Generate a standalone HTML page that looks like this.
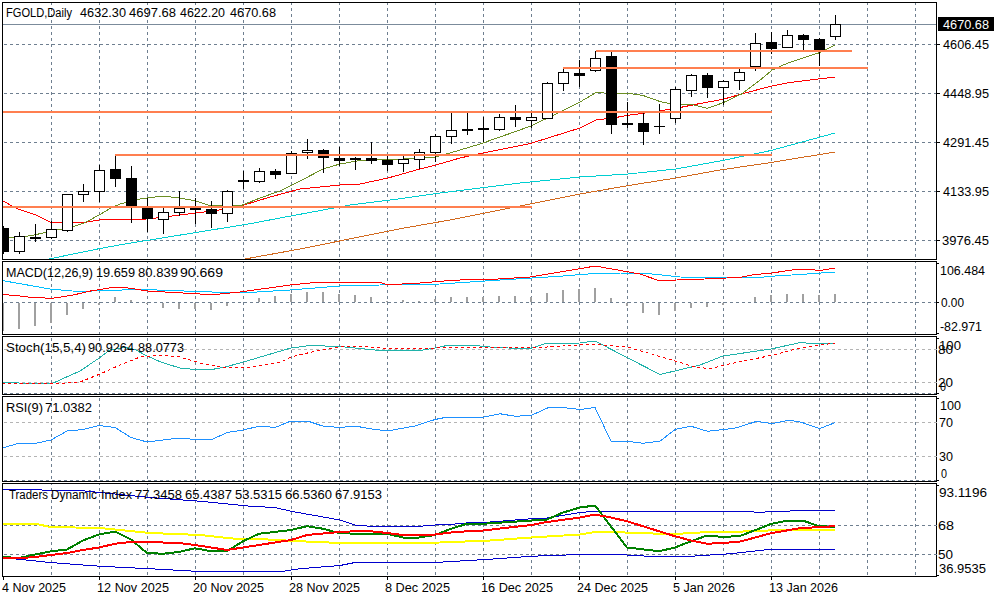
<!DOCTYPE html>
<html><head><meta charset="utf-8"><style>
html,body{margin:0;padding:0;background:#fff;width:1000px;height:600px;overflow:hidden}
svg{display:block}
text{font-family:"Liberation Sans", sans-serif;}
</style></head><body>
<svg width="1000" height="600" viewBox="0 0 1000 600" shape-rendering="crispEdges">
<defs>
<clipPath id="cmain"><rect x="3" y="3" width="933" height="256"/></clipPath>
<clipPath id="cmacd"><rect x="3" y="262" width="933" height="72"/></clipPath>
<clipPath id="cstoch"><rect x="3" y="337" width="933" height="57"/></clipPath>
<clipPath id="crsi"><rect x="3" y="397" width="933" height="84"/></clipPath>
<clipPath id="ctdi"><rect x="3" y="484" width="933" height="92"/></clipPath>
</defs>
<rect x="0" y="0" width="1000" height="600" fill="#fff"/>
<line x1="51.5" y1="3" x2="51.5" y2="259" stroke="#6f7f90" stroke-width="1" stroke-dasharray="3 3" stroke-dashoffset="1"/>
<line x1="99.5" y1="3" x2="99.5" y2="259" stroke="#6f7f90" stroke-width="1" stroke-dasharray="3 3" stroke-dashoffset="1"/>
<line x1="147.5" y1="3" x2="147.5" y2="259" stroke="#6f7f90" stroke-width="1" stroke-dasharray="3 3" stroke-dashoffset="1"/>
<line x1="195.5" y1="3" x2="195.5" y2="259" stroke="#6f7f90" stroke-width="1" stroke-dasharray="3 3" stroke-dashoffset="1"/>
<line x1="243.5" y1="3" x2="243.5" y2="259" stroke="#6f7f90" stroke-width="1" stroke-dasharray="3 3" stroke-dashoffset="1"/>
<line x1="291.5" y1="3" x2="291.5" y2="259" stroke="#6f7f90" stroke-width="1" stroke-dasharray="3 3" stroke-dashoffset="1"/>
<line x1="339.5" y1="3" x2="339.5" y2="259" stroke="#6f7f90" stroke-width="1" stroke-dasharray="3 3" stroke-dashoffset="1"/>
<line x1="387.5" y1="3" x2="387.5" y2="259" stroke="#6f7f90" stroke-width="1" stroke-dasharray="3 3" stroke-dashoffset="1"/>
<line x1="435.5" y1="3" x2="435.5" y2="259" stroke="#6f7f90" stroke-width="1" stroke-dasharray="3 3" stroke-dashoffset="1"/>
<line x1="483.5" y1="3" x2="483.5" y2="259" stroke="#6f7f90" stroke-width="1" stroke-dasharray="3 3" stroke-dashoffset="1"/>
<line x1="531.5" y1="3" x2="531.5" y2="259" stroke="#6f7f90" stroke-width="1" stroke-dasharray="3 3" stroke-dashoffset="1"/>
<line x1="579.5" y1="3" x2="579.5" y2="259" stroke="#6f7f90" stroke-width="1" stroke-dasharray="3 3" stroke-dashoffset="1"/>
<line x1="627.5" y1="3" x2="627.5" y2="259" stroke="#6f7f90" stroke-width="1" stroke-dasharray="3 3" stroke-dashoffset="1"/>
<line x1="675.5" y1="3" x2="675.5" y2="259" stroke="#6f7f90" stroke-width="1" stroke-dasharray="3 3" stroke-dashoffset="1"/>
<line x1="723.5" y1="3" x2="723.5" y2="259" stroke="#6f7f90" stroke-width="1" stroke-dasharray="3 3" stroke-dashoffset="1"/>
<line x1="771.5" y1="3" x2="771.5" y2="259" stroke="#6f7f90" stroke-width="1" stroke-dasharray="3 3" stroke-dashoffset="1"/>
<line x1="819.5" y1="3" x2="819.5" y2="259" stroke="#6f7f90" stroke-width="1" stroke-dasharray="3 3" stroke-dashoffset="1"/>
<line x1="867.5" y1="3" x2="867.5" y2="259" stroke="#6f7f90" stroke-width="1" stroke-dasharray="3 3" stroke-dashoffset="1"/>
<line x1="915.5" y1="3" x2="915.5" y2="259" stroke="#6f7f90" stroke-width="1" stroke-dasharray="3 3" stroke-dashoffset="1"/>
<line x1="51.5" y1="262" x2="51.5" y2="334" stroke="#6f7f90" stroke-width="1" stroke-dasharray="3 3" stroke-dashoffset="2"/>
<line x1="99.5" y1="262" x2="99.5" y2="334" stroke="#6f7f90" stroke-width="1" stroke-dasharray="3 3" stroke-dashoffset="2"/>
<line x1="147.5" y1="262" x2="147.5" y2="334" stroke="#6f7f90" stroke-width="1" stroke-dasharray="3 3" stroke-dashoffset="2"/>
<line x1="195.5" y1="262" x2="195.5" y2="334" stroke="#6f7f90" stroke-width="1" stroke-dasharray="3 3" stroke-dashoffset="2"/>
<line x1="243.5" y1="262" x2="243.5" y2="334" stroke="#6f7f90" stroke-width="1" stroke-dasharray="3 3" stroke-dashoffset="2"/>
<line x1="291.5" y1="262" x2="291.5" y2="334" stroke="#6f7f90" stroke-width="1" stroke-dasharray="3 3" stroke-dashoffset="2"/>
<line x1="339.5" y1="262" x2="339.5" y2="334" stroke="#6f7f90" stroke-width="1" stroke-dasharray="3 3" stroke-dashoffset="2"/>
<line x1="387.5" y1="262" x2="387.5" y2="334" stroke="#6f7f90" stroke-width="1" stroke-dasharray="3 3" stroke-dashoffset="2"/>
<line x1="435.5" y1="262" x2="435.5" y2="334" stroke="#6f7f90" stroke-width="1" stroke-dasharray="3 3" stroke-dashoffset="2"/>
<line x1="483.5" y1="262" x2="483.5" y2="334" stroke="#6f7f90" stroke-width="1" stroke-dasharray="3 3" stroke-dashoffset="2"/>
<line x1="531.5" y1="262" x2="531.5" y2="334" stroke="#6f7f90" stroke-width="1" stroke-dasharray="3 3" stroke-dashoffset="2"/>
<line x1="579.5" y1="262" x2="579.5" y2="334" stroke="#6f7f90" stroke-width="1" stroke-dasharray="3 3" stroke-dashoffset="2"/>
<line x1="627.5" y1="262" x2="627.5" y2="334" stroke="#6f7f90" stroke-width="1" stroke-dasharray="3 3" stroke-dashoffset="2"/>
<line x1="675.5" y1="262" x2="675.5" y2="334" stroke="#6f7f90" stroke-width="1" stroke-dasharray="3 3" stroke-dashoffset="2"/>
<line x1="723.5" y1="262" x2="723.5" y2="334" stroke="#6f7f90" stroke-width="1" stroke-dasharray="3 3" stroke-dashoffset="2"/>
<line x1="771.5" y1="262" x2="771.5" y2="334" stroke="#6f7f90" stroke-width="1" stroke-dasharray="3 3" stroke-dashoffset="2"/>
<line x1="819.5" y1="262" x2="819.5" y2="334" stroke="#6f7f90" stroke-width="1" stroke-dasharray="3 3" stroke-dashoffset="2"/>
<line x1="867.5" y1="262" x2="867.5" y2="334" stroke="#6f7f90" stroke-width="1" stroke-dasharray="3 3" stroke-dashoffset="2"/>
<line x1="915.5" y1="262" x2="915.5" y2="334" stroke="#6f7f90" stroke-width="1" stroke-dasharray="3 3" stroke-dashoffset="2"/>
<line x1="51.5" y1="337" x2="51.5" y2="394" stroke="#6f7f90" stroke-width="1" stroke-dasharray="3 3" stroke-dashoffset="5"/>
<line x1="99.5" y1="337" x2="99.5" y2="394" stroke="#6f7f90" stroke-width="1" stroke-dasharray="3 3" stroke-dashoffset="5"/>
<line x1="147.5" y1="337" x2="147.5" y2="394" stroke="#6f7f90" stroke-width="1" stroke-dasharray="3 3" stroke-dashoffset="5"/>
<line x1="195.5" y1="337" x2="195.5" y2="394" stroke="#6f7f90" stroke-width="1" stroke-dasharray="3 3" stroke-dashoffset="5"/>
<line x1="243.5" y1="337" x2="243.5" y2="394" stroke="#6f7f90" stroke-width="1" stroke-dasharray="3 3" stroke-dashoffset="5"/>
<line x1="291.5" y1="337" x2="291.5" y2="394" stroke="#6f7f90" stroke-width="1" stroke-dasharray="3 3" stroke-dashoffset="5"/>
<line x1="339.5" y1="337" x2="339.5" y2="394" stroke="#6f7f90" stroke-width="1" stroke-dasharray="3 3" stroke-dashoffset="5"/>
<line x1="387.5" y1="337" x2="387.5" y2="394" stroke="#6f7f90" stroke-width="1" stroke-dasharray="3 3" stroke-dashoffset="5"/>
<line x1="435.5" y1="337" x2="435.5" y2="394" stroke="#6f7f90" stroke-width="1" stroke-dasharray="3 3" stroke-dashoffset="5"/>
<line x1="483.5" y1="337" x2="483.5" y2="394" stroke="#6f7f90" stroke-width="1" stroke-dasharray="3 3" stroke-dashoffset="5"/>
<line x1="531.5" y1="337" x2="531.5" y2="394" stroke="#6f7f90" stroke-width="1" stroke-dasharray="3 3" stroke-dashoffset="5"/>
<line x1="579.5" y1="337" x2="579.5" y2="394" stroke="#6f7f90" stroke-width="1" stroke-dasharray="3 3" stroke-dashoffset="5"/>
<line x1="627.5" y1="337" x2="627.5" y2="394" stroke="#6f7f90" stroke-width="1" stroke-dasharray="3 3" stroke-dashoffset="5"/>
<line x1="675.5" y1="337" x2="675.5" y2="394" stroke="#6f7f90" stroke-width="1" stroke-dasharray="3 3" stroke-dashoffset="5"/>
<line x1="723.5" y1="337" x2="723.5" y2="394" stroke="#6f7f90" stroke-width="1" stroke-dasharray="3 3" stroke-dashoffset="5"/>
<line x1="771.5" y1="337" x2="771.5" y2="394" stroke="#6f7f90" stroke-width="1" stroke-dasharray="3 3" stroke-dashoffset="5"/>
<line x1="819.5" y1="337" x2="819.5" y2="394" stroke="#6f7f90" stroke-width="1" stroke-dasharray="3 3" stroke-dashoffset="5"/>
<line x1="867.5" y1="337" x2="867.5" y2="394" stroke="#6f7f90" stroke-width="1" stroke-dasharray="3 3" stroke-dashoffset="5"/>
<line x1="915.5" y1="337" x2="915.5" y2="394" stroke="#6f7f90" stroke-width="1" stroke-dasharray="3 3" stroke-dashoffset="5"/>
<line x1="51.5" y1="397" x2="51.5" y2="481" stroke="#6f7f90" stroke-width="1" stroke-dasharray="3 3" stroke-dashoffset="5"/>
<line x1="99.5" y1="397" x2="99.5" y2="481" stroke="#6f7f90" stroke-width="1" stroke-dasharray="3 3" stroke-dashoffset="5"/>
<line x1="147.5" y1="397" x2="147.5" y2="481" stroke="#6f7f90" stroke-width="1" stroke-dasharray="3 3" stroke-dashoffset="5"/>
<line x1="195.5" y1="397" x2="195.5" y2="481" stroke="#6f7f90" stroke-width="1" stroke-dasharray="3 3" stroke-dashoffset="5"/>
<line x1="243.5" y1="397" x2="243.5" y2="481" stroke="#6f7f90" stroke-width="1" stroke-dasharray="3 3" stroke-dashoffset="5"/>
<line x1="291.5" y1="397" x2="291.5" y2="481" stroke="#6f7f90" stroke-width="1" stroke-dasharray="3 3" stroke-dashoffset="5"/>
<line x1="339.5" y1="397" x2="339.5" y2="481" stroke="#6f7f90" stroke-width="1" stroke-dasharray="3 3" stroke-dashoffset="5"/>
<line x1="387.5" y1="397" x2="387.5" y2="481" stroke="#6f7f90" stroke-width="1" stroke-dasharray="3 3" stroke-dashoffset="5"/>
<line x1="435.5" y1="397" x2="435.5" y2="481" stroke="#6f7f90" stroke-width="1" stroke-dasharray="3 3" stroke-dashoffset="5"/>
<line x1="483.5" y1="397" x2="483.5" y2="481" stroke="#6f7f90" stroke-width="1" stroke-dasharray="3 3" stroke-dashoffset="5"/>
<line x1="531.5" y1="397" x2="531.5" y2="481" stroke="#6f7f90" stroke-width="1" stroke-dasharray="3 3" stroke-dashoffset="5"/>
<line x1="579.5" y1="397" x2="579.5" y2="481" stroke="#6f7f90" stroke-width="1" stroke-dasharray="3 3" stroke-dashoffset="5"/>
<line x1="627.5" y1="397" x2="627.5" y2="481" stroke="#6f7f90" stroke-width="1" stroke-dasharray="3 3" stroke-dashoffset="5"/>
<line x1="675.5" y1="397" x2="675.5" y2="481" stroke="#6f7f90" stroke-width="1" stroke-dasharray="3 3" stroke-dashoffset="5"/>
<line x1="723.5" y1="397" x2="723.5" y2="481" stroke="#6f7f90" stroke-width="1" stroke-dasharray="3 3" stroke-dashoffset="5"/>
<line x1="771.5" y1="397" x2="771.5" y2="481" stroke="#6f7f90" stroke-width="1" stroke-dasharray="3 3" stroke-dashoffset="5"/>
<line x1="819.5" y1="397" x2="819.5" y2="481" stroke="#6f7f90" stroke-width="1" stroke-dasharray="3 3" stroke-dashoffset="5"/>
<line x1="867.5" y1="397" x2="867.5" y2="481" stroke="#6f7f90" stroke-width="1" stroke-dasharray="3 3" stroke-dashoffset="5"/>
<line x1="915.5" y1="397" x2="915.5" y2="481" stroke="#6f7f90" stroke-width="1" stroke-dasharray="3 3" stroke-dashoffset="5"/>
<line x1="51.5" y1="484" x2="51.5" y2="576" stroke="#6f7f90" stroke-width="1" stroke-dasharray="3 3" stroke-dashoffset="2"/>
<line x1="99.5" y1="484" x2="99.5" y2="576" stroke="#6f7f90" stroke-width="1" stroke-dasharray="3 3" stroke-dashoffset="2"/>
<line x1="147.5" y1="484" x2="147.5" y2="576" stroke="#6f7f90" stroke-width="1" stroke-dasharray="3 3" stroke-dashoffset="2"/>
<line x1="195.5" y1="484" x2="195.5" y2="576" stroke="#6f7f90" stroke-width="1" stroke-dasharray="3 3" stroke-dashoffset="2"/>
<line x1="243.5" y1="484" x2="243.5" y2="576" stroke="#6f7f90" stroke-width="1" stroke-dasharray="3 3" stroke-dashoffset="2"/>
<line x1="291.5" y1="484" x2="291.5" y2="576" stroke="#6f7f90" stroke-width="1" stroke-dasharray="3 3" stroke-dashoffset="2"/>
<line x1="339.5" y1="484" x2="339.5" y2="576" stroke="#6f7f90" stroke-width="1" stroke-dasharray="3 3" stroke-dashoffset="2"/>
<line x1="387.5" y1="484" x2="387.5" y2="576" stroke="#6f7f90" stroke-width="1" stroke-dasharray="3 3" stroke-dashoffset="2"/>
<line x1="435.5" y1="484" x2="435.5" y2="576" stroke="#6f7f90" stroke-width="1" stroke-dasharray="3 3" stroke-dashoffset="2"/>
<line x1="483.5" y1="484" x2="483.5" y2="576" stroke="#6f7f90" stroke-width="1" stroke-dasharray="3 3" stroke-dashoffset="2"/>
<line x1="531.5" y1="484" x2="531.5" y2="576" stroke="#6f7f90" stroke-width="1" stroke-dasharray="3 3" stroke-dashoffset="2"/>
<line x1="579.5" y1="484" x2="579.5" y2="576" stroke="#6f7f90" stroke-width="1" stroke-dasharray="3 3" stroke-dashoffset="2"/>
<line x1="627.5" y1="484" x2="627.5" y2="576" stroke="#6f7f90" stroke-width="1" stroke-dasharray="3 3" stroke-dashoffset="2"/>
<line x1="675.5" y1="484" x2="675.5" y2="576" stroke="#6f7f90" stroke-width="1" stroke-dasharray="3 3" stroke-dashoffset="2"/>
<line x1="723.5" y1="484" x2="723.5" y2="576" stroke="#6f7f90" stroke-width="1" stroke-dasharray="3 3" stroke-dashoffset="2"/>
<line x1="771.5" y1="484" x2="771.5" y2="576" stroke="#6f7f90" stroke-width="1" stroke-dasharray="3 3" stroke-dashoffset="2"/>
<line x1="819.5" y1="484" x2="819.5" y2="576" stroke="#6f7f90" stroke-width="1" stroke-dasharray="3 3" stroke-dashoffset="2"/>
<line x1="867.5" y1="484" x2="867.5" y2="576" stroke="#6f7f90" stroke-width="1" stroke-dasharray="3 3" stroke-dashoffset="2"/>
<line x1="915.5" y1="484" x2="915.5" y2="576" stroke="#6f7f90" stroke-width="1" stroke-dasharray="3 3" stroke-dashoffset="2"/>
<line x1="3" y1="44.5" x2="936" y2="44.5" stroke="#6f7f90" stroke-width="1" stroke-dasharray="3 3" stroke-dashoffset="5"/>
<line x1="3" y1="93.5" x2="936" y2="93.5" stroke="#6f7f90" stroke-width="1" stroke-dasharray="3 3" stroke-dashoffset="5"/>
<line x1="3" y1="142.5" x2="936" y2="142.5" stroke="#6f7f90" stroke-width="1" stroke-dasharray="3 3" stroke-dashoffset="5"/>
<line x1="3" y1="191.5" x2="936" y2="191.5" stroke="#6f7f90" stroke-width="1" stroke-dasharray="3 3" stroke-dashoffset="5"/>
<line x1="3" y1="240.5" x2="936" y2="240.5" stroke="#6f7f90" stroke-width="1" stroke-dasharray="3 3" stroke-dashoffset="5"/>
<rect x="2" y="24" width="934" height="1" fill="#7b8b9b"/>
<line x1="3" y1="302.5" x2="936" y2="302.5" stroke="#6f7f90" stroke-width="1" stroke-dasharray="3 3" stroke-dashoffset="5"/>
<line x1="3" y1="349.5" x2="936" y2="349.5" stroke="#b4b4b4" stroke-width="1" stroke-dasharray="3 3" stroke-dashoffset="5"/>
<line x1="3" y1="382.5" x2="936" y2="382.5" stroke="#b4b4b4" stroke-width="1" stroke-dasharray="3 3" stroke-dashoffset="5"/>
<line x1="3" y1="393.5" x2="936" y2="393.5" stroke="#6f7f90" stroke-width="1" stroke-dasharray="3 3" stroke-dashoffset="5"/>
<line x1="3" y1="422.5" x2="936" y2="422.5" stroke="#b4b4b4" stroke-width="1" stroke-dasharray="3 3" stroke-dashoffset="5"/>
<line x1="3" y1="456.5" x2="936" y2="456.5" stroke="#b4b4b4" stroke-width="1" stroke-dasharray="3 3" stroke-dashoffset="5"/>
<line x1="3" y1="480.5" x2="936" y2="480.5" stroke="#6f7f90" stroke-width="1" stroke-dasharray="3 3" stroke-dashoffset="5"/>
<line x1="3" y1="525.5" x2="936" y2="525.5" stroke="#6f7f90" stroke-width="1" stroke-dasharray="3 3" stroke-dashoffset="5"/>
<line x1="3" y1="554.5" x2="936" y2="554.5" stroke="#6f7f90" stroke-width="1" stroke-dasharray="3 3" stroke-dashoffset="5"/>
<g clip-path="url(#cmain)">
<polyline points="245,259 300,249 400,228.75 450,220 480,214 520,206 580,194 628,185.6 676,178 720,170 771,162.5 835,152" fill="none" stroke="#d2691e" stroke-width="1" stroke-linejoin="round"/>
<polyline points="49,259 99,248.7 125,244 250,223.75 280,218 350,205 400,198.75 440,193 480,188 520,183 580,177 628,174 676,169 720,161 771,150.5 835,133" fill="none" stroke="#00ced1" stroke-width="1" stroke-linejoin="round"/>
<polyline points="3,201 17,208.7 36,215 51,222.4 85,222.4 99,220 107,219.3 148,219 180,215 212,211 232,208 244,205 270,197 300,189 340,185 360,184 388,178 420,169 436,165 460,158 483,153 530,143.6 580,128 596,120 614,117.8 630,115 647,112.8 662,110.5 680,107.5 700,103.5 723,99.3 745,93 771,86.25 790,82.5 820,78.75 835,77.25" fill="none" stroke="#ff0000" stroke-width="1" stroke-linejoin="round"/>
<polyline points="3,236 13,237.6 31,235.7 53,230.7 69,228 85,222.7 99,215 111,208 120,204 140,199 162,196 180,198 196,201 210,205.6 240,206 260,198 280,191 300,181 323,169 340,164 360,160.5 400,159.3 435,157 450,153 480,144 500,137 531,126 560,112 580,102 596,92.5 604,93 630,93.5 643,95.5 660,101.5 674,104.5 692,104.4 700,106.5 707.5,108.3 723,102.75 742,93.75 760,80.25 772,70.2 781,66 790,62.25 820,52.5 835,45" fill="none" stroke="#6b8e23" stroke-width="1" stroke-linejoin="round"/>
</g>
<g clip-path="url(#cmain)">
<rect x="3" y="226" width="1" height="28" fill="#000"/>
<rect x="-2" y="228" width="11" height="24" fill="#000"/>
<rect x="19" y="232" width="1" height="22" fill="#000"/>
<rect x="14.5" y="236.5" width="10" height="15" fill="#fff" stroke="#000" stroke-width="1"/>
<rect x="35" y="224" width="1" height="18" fill="#000"/>
<rect x="30" y="237" width="11" height="2" fill="#000"/>
<rect x="51" y="221" width="1" height="18" fill="#000"/>
<rect x="46.5" y="229.5" width="10" height="8" fill="#fff" stroke="#000" stroke-width="1"/>
<rect x="67" y="194" width="1" height="38" fill="#000"/>
<rect x="62.5" y="194.5" width="10" height="36" fill="#fff" stroke="#000" stroke-width="1"/>
<rect x="83" y="184" width="1" height="18" fill="#000"/>
<rect x="78.5" y="191.5" width="10" height="3" fill="#fff" stroke="#000" stroke-width="1"/>
<rect x="99" y="165" width="1" height="37" fill="#000"/>
<rect x="94.5" y="170.5" width="10" height="21" fill="#fff" stroke="#000" stroke-width="1"/>
<rect x="115" y="155" width="1" height="32" fill="#000"/>
<rect x="110" y="169" width="11" height="10" fill="#000"/>
<rect x="131" y="166" width="1" height="57" fill="#000"/>
<rect x="126" y="178" width="11" height="28" fill="#000"/>
<rect x="147" y="198" width="1" height="34" fill="#000"/>
<rect x="142" y="208" width="11" height="11" fill="#000"/>
<rect x="163" y="208" width="1" height="26" fill="#000"/>
<rect x="158.5" y="212.5" width="10" height="7" fill="#fff" stroke="#000" stroke-width="1"/>
<rect x="179" y="191" width="1" height="25" fill="#000"/>
<rect x="174.5" y="208.5" width="10" height="4" fill="#fff" stroke="#000" stroke-width="1"/>
<rect x="195" y="198" width="1" height="26" fill="#000"/>
<rect x="190" y="208" width="11" height="2" fill="#000"/>
<rect x="211" y="201" width="1" height="27" fill="#000"/>
<rect x="206" y="209" width="11" height="5" fill="#000"/>
<rect x="227" y="190" width="1" height="32" fill="#000"/>
<rect x="222.5" y="191.5" width="10" height="22" fill="#fff" stroke="#000" stroke-width="1"/>
<rect x="243" y="171" width="1" height="18" fill="#000"/>
<rect x="238" y="180" width="11" height="2" fill="#000"/>
<rect x="259" y="168" width="1" height="15" fill="#000"/>
<rect x="254.5" y="171.5" width="10" height="10" fill="#fff" stroke="#000" stroke-width="1"/>
<rect x="275" y="169" width="1" height="10" fill="#000"/>
<rect x="270" y="171" width="11" height="4" fill="#000"/>
<rect x="291" y="151" width="1" height="23" fill="#000"/>
<rect x="286.5" y="153.5" width="10" height="20" fill="#fff" stroke="#000" stroke-width="1"/>
<rect x="307" y="139" width="1" height="20" fill="#000"/>
<rect x="302.5" y="150.5" width="10" height="2" fill="#fff" stroke="#000" stroke-width="1"/>
<rect x="323" y="149" width="1" height="24" fill="#000"/>
<rect x="318" y="150" width="11" height="8" fill="#000"/>
<rect x="339" y="147" width="1" height="19" fill="#000"/>
<rect x="334" y="158" width="11" height="3" fill="#000"/>
<rect x="355" y="157" width="1" height="13" fill="#000"/>
<rect x="350.5" y="158.5" width="10" height="1" fill="#fff" stroke="#000" stroke-width="1"/>
<rect x="371" y="142" width="1" height="22" fill="#000"/>
<rect x="366" y="158" width="11" height="3" fill="#000"/>
<rect x="387" y="156" width="1" height="15" fill="#000"/>
<rect x="382" y="160" width="11" height="5" fill="#000"/>
<rect x="403" y="156" width="1" height="16" fill="#000"/>
<rect x="398.5" y="159.5" width="10" height="4" fill="#fff" stroke="#000" stroke-width="1"/>
<rect x="419" y="149" width="1" height="20" fill="#000"/>
<rect x="414.5" y="152.5" width="10" height="7" fill="#fff" stroke="#000" stroke-width="1"/>
<rect x="435" y="134" width="1" height="28" fill="#000"/>
<rect x="430.5" y="136.5" width="10" height="16" fill="#fff" stroke="#000" stroke-width="1"/>
<rect x="451" y="113" width="1" height="31" fill="#000"/>
<rect x="446.5" y="130.5" width="10" height="6" fill="#fff" stroke="#000" stroke-width="1"/>
<rect x="467" y="113" width="1" height="22" fill="#000"/>
<rect x="462" y="129" width="11" height="2" fill="#000"/>
<rect x="483" y="117" width="1" height="25" fill="#000"/>
<rect x="478" y="128" width="11" height="2" fill="#000"/>
<rect x="499" y="114" width="1" height="17" fill="#000"/>
<rect x="494.5" y="117.5" width="10" height="12" fill="#fff" stroke="#000" stroke-width="1"/>
<rect x="515" y="105" width="1" height="22" fill="#000"/>
<rect x="510" y="117" width="11" height="3" fill="#000"/>
<rect x="531" y="113" width="1" height="15" fill="#000"/>
<rect x="526.5" y="117.5" width="10" height="3" fill="#fff" stroke="#000" stroke-width="1"/>
<rect x="547" y="82" width="1" height="37" fill="#000"/>
<rect x="542.5" y="83.5" width="10" height="35" fill="#fff" stroke="#000" stroke-width="1"/>
<rect x="563" y="68" width="1" height="23" fill="#000"/>
<rect x="558.5" y="72.5" width="10" height="11" fill="#fff" stroke="#000" stroke-width="1"/>
<rect x="579" y="60" width="1" height="27" fill="#000"/>
<rect x="574" y="73" width="11" height="3" fill="#000"/>
<rect x="595" y="51" width="1" height="21" fill="#000"/>
<rect x="590.5" y="58.5" width="10" height="12" fill="#fff" stroke="#000" stroke-width="1"/>
<rect x="611" y="52" width="1" height="82" fill="#000"/>
<rect x="606" y="56" width="11" height="69" fill="#000"/>
<rect x="627" y="102" width="1" height="26" fill="#000"/>
<rect x="622" y="123" width="11" height="2" fill="#000"/>
<rect x="643" y="113" width="1" height="32" fill="#000"/>
<rect x="638" y="123" width="11" height="9" fill="#000"/>
<rect x="659" y="104" width="1" height="30" fill="#000"/>
<rect x="654" y="126" width="11" height="1" fill="#000"/>
<rect x="675" y="87" width="1" height="36" fill="#000"/>
<rect x="670.5" y="89.5" width="10" height="29" fill="#fff" stroke="#000" stroke-width="1"/>
<rect x="691" y="74" width="1" height="23" fill="#000"/>
<rect x="686.5" y="75.5" width="10" height="15" fill="#fff" stroke="#000" stroke-width="1"/>
<rect x="707" y="73" width="1" height="25" fill="#000"/>
<rect x="702" y="75" width="11" height="13" fill="#000"/>
<rect x="723" y="80" width="1" height="25" fill="#000"/>
<rect x="718.5" y="81.5" width="10" height="6" fill="#fff" stroke="#000" stroke-width="1"/>
<rect x="739" y="69" width="1" height="21" fill="#000"/>
<rect x="734.5" y="72.5" width="10" height="8" fill="#fff" stroke="#000" stroke-width="1"/>
<rect x="755" y="33" width="1" height="38" fill="#000"/>
<rect x="750.5" y="43.5" width="10" height="23" fill="#fff" stroke="#000" stroke-width="1"/>
<rect x="771" y="32" width="1" height="22" fill="#000"/>
<rect x="766" y="42" width="11" height="7" fill="#000"/>
<rect x="787" y="30" width="1" height="18" fill="#000"/>
<rect x="782.5" y="35.5" width="10" height="12" fill="#fff" stroke="#000" stroke-width="1"/>
<rect x="803" y="34" width="1" height="16" fill="#000"/>
<rect x="798" y="35" width="11" height="5" fill="#000"/>
<rect x="819" y="38" width="1" height="28" fill="#000"/>
<rect x="814" y="39" width="11" height="11" fill="#000"/>
<rect x="835" y="15" width="1" height="25" fill="#000"/>
<rect x="830.5" y="24.5" width="10" height="12" fill="#fff" stroke="#000" stroke-width="1"/>
</g>
<rect x="596" y="50" width="256" height="2" fill="#ff7f50"/>
<rect x="563" y="67" width="305" height="2" fill="#ff7f50"/>
<rect x="2" y="111" width="770" height="2" fill="#ff7f50"/>
<rect x="115" y="154" width="657" height="2" fill="#ff7f50"/>
<rect x="2" y="206" width="530" height="2" fill="#ff7f50"/>
<g clip-path="url(#cmacd)">
<rect x="2" y="303" width="2" height="28" fill="#a0a0a0"/>
<rect x="18" y="303" width="2" height="26" fill="#a0a0a0"/>
<rect x="34" y="303" width="2" height="23" fill="#a0a0a0"/>
<rect x="50" y="303" width="2" height="20" fill="#a0a0a0"/>
<rect x="66" y="303" width="2" height="12" fill="#a0a0a0"/>
<rect x="82" y="303" width="2" height="6" fill="#a0a0a0"/>
<rect x="98" y="303" width="2" height="2" fill="#a0a0a0"/>
<rect x="114" y="297" width="2" height="5" fill="#a0a0a0"/>
<rect x="130" y="300" width="2" height="2" fill="#a0a0a0"/>
<rect x="146" y="303" width="2" height="1" fill="#a0a0a0"/>
<rect x="162" y="303" width="2" height="5" fill="#a0a0a0"/>
<rect x="178" y="303" width="2" height="6" fill="#a0a0a0"/>
<rect x="194" y="303" width="2" height="6" fill="#a0a0a0"/>
<rect x="210" y="303" width="2" height="7" fill="#a0a0a0"/>
<rect x="226" y="303" width="2" height="3" fill="#a0a0a0"/>
<rect x="258" y="298" width="2" height="4" fill="#a0a0a0"/>
<rect x="274" y="296" width="2" height="6" fill="#a0a0a0"/>
<rect x="290" y="294" width="2" height="8" fill="#a0a0a0"/>
<rect x="306" y="292" width="2" height="10" fill="#a0a0a0"/>
<rect x="322" y="292" width="2" height="10" fill="#a0a0a0"/>
<rect x="338" y="294" width="2" height="8" fill="#a0a0a0"/>
<rect x="354" y="295" width="2" height="7" fill="#a0a0a0"/>
<rect x="370" y="297" width="2" height="5" fill="#a0a0a0"/>
<rect x="386" y="301" width="2" height="1" fill="#a0a0a0"/>
<rect x="402" y="300" width="2" height="2" fill="#a0a0a0"/>
<rect x="418" y="301" width="2" height="1" fill="#a0a0a0"/>
<rect x="434" y="299" width="2" height="3" fill="#a0a0a0"/>
<rect x="450" y="297" width="2" height="5" fill="#a0a0a0"/>
<rect x="466" y="297" width="2" height="5" fill="#a0a0a0"/>
<rect x="482" y="297" width="2" height="5" fill="#a0a0a0"/>
<rect x="498" y="296" width="2" height="6" fill="#a0a0a0"/>
<rect x="514" y="296" width="2" height="6" fill="#a0a0a0"/>
<rect x="530" y="297" width="2" height="5" fill="#a0a0a0"/>
<rect x="546" y="293" width="2" height="9" fill="#a0a0a0"/>
<rect x="562" y="290" width="2" height="12" fill="#a0a0a0"/>
<rect x="578" y="289" width="2" height="13" fill="#a0a0a0"/>
<rect x="594" y="288" width="2" height="14" fill="#a0a0a0"/>
<rect x="610" y="298" width="2" height="4" fill="#a0a0a0"/>
<rect x="626" y="303" width="2" height="3" fill="#a0a0a0"/>
<rect x="642" y="303" width="2" height="10" fill="#a0a0a0"/>
<rect x="658" y="303" width="2" height="12" fill="#a0a0a0"/>
<rect x="674" y="303" width="2" height="8" fill="#a0a0a0"/>
<rect x="690" y="303" width="2" height="5" fill="#a0a0a0"/>
<rect x="706" y="303" width="2" height="4" fill="#a0a0a0"/>
<rect x="722" y="303" width="2" height="2" fill="#a0a0a0"/>
<rect x="754" y="297" width="2" height="5" fill="#a0a0a0"/>
<rect x="770" y="295" width="2" height="7" fill="#a0a0a0"/>
<rect x="786" y="294" width="2" height="8" fill="#a0a0a0"/>
<rect x="802" y="294" width="2" height="8" fill="#a0a0a0"/>
<rect x="818" y="295" width="2" height="7" fill="#a0a0a0"/>
<rect x="834" y="294" width="2" height="8" fill="#a0a0a0"/>
<polyline points="2,280.5 50,289 78,291.5 88,291.5 99,290 122,290 130,289 200,291.6 240,293 290,290 340,286 380,285 440,284 500,280 560,276.25 600,273 620,273 650,273.75 680,277 720,278 760,277.5 771,276.25 800,274.5 835,272" fill="none" stroke="#00bfff" stroke-width="1" stroke-linejoin="round"/>
<polyline points="2,294.5 16,295.5 24,296.5 32,297.5 52,298.3 71.5,295.4 91,290.9 112,287.6 122,287.3 130,288.3 148,291 172,292.4 200,294 210,295 240,292 290,285 320,282 340,282 380,282.5 387,284.5 410,283.75 427,282.5 440,281.25 460,280 490,279.5 530,277 550,273.75 580,268.75 595,266 612,269 640,274 660,281 685,279.5 715,278.75 742,277 755,274.5 772,273 795,269.5 810,269.5 820,270.5 835,268" fill="none" stroke="#ff0000" stroke-width="1" stroke-linejoin="round"/>
</g>
<g clip-path="url(#cstoch)">
<polyline points="2,382.5 51,384 80,371 100,357.5 110,350 125,347.5 135,349.5 147,356 162,362.5 180,368 195,369.5 212,369.5 225,367 240,363 291,348 310,345.5 340,346.5 380,350.5 420,350.5 435,348 447,345.5 475,345.5 490,347 508,348 530,348.5 545,343.75 580,343 595,341 627,357.5 660,374.5 700,365 723,356 771,349 800,342.6 820,344 835,343.4" fill="none" stroke="#20b2aa" stroke-width="1" stroke-linejoin="round"/>
<polyline points="2,383 51,384 80,382 100,374 120,365 140,357 160,355 180,357 200,363 220,367 250,367 280,362.5 291,357 320,350 340,347 360,346 380,348 420,349 435,348 480,347.5 530,348 580,345 595,344.5 627,347 645,352 670,359.5 695,367 710,368.75 730,363.75 771,355.5 800,348 835,343" fill="none" stroke="#ff0000" stroke-width="1" stroke-dasharray="3 3" stroke-linejoin="round"/>
</g>
<g clip-path="url(#crsi)">
<polyline points="2,448 20,443 37,443 51,440 67,431 83,429.5 99,425.5 115,427.5 131,437.5 147,442 163,440 179,438 195,439.5 211,440 227,432.5 243,430 260,426 275,427.5 291,421 307.5,421 322.5,426 340,427.5 355,426 370,428.75 387.5,431 415,426 435,419.5 447.5,417 483.75,417 500,413.75 515,416.25 531,415.5 547.5,408 562.5,407.5 580,409.5 595,407.5 611,441.25 627.5,441.25 642.5,443.25 660,441.25 675,429.5 691,426.25 707.5,431.25 723.75,429.5 736.8,427.8 756.4,421.4 771.8,423.6 788.6,420.2 801.2,422.2 819.4,428.6 834.8,422.8" fill="none" stroke="#1e90ff" stroke-width="1" stroke-linejoin="round"/>
</g>
<g clip-path="url(#ctdi)">
<polyline points="2,489.5 80,490.5 150,497.5 200,501.25 250,506.25 275,507.5 291,511.25 340,520 355,525 370,526.25 420,526.25 435,525 460,523.75 470,522.5 490,522 531,518.75 547,518 580,512.5 595,511.25 730,511.25 760,512.2 800,510.6 835,510.6" fill="none" stroke="#0000cd" stroke-width="1" stroke-linejoin="round"/>
<polyline points="2,557.5 50,562.5 100,566.25 150,568.75 195,571.25 283,571.25 300,568.75 340,565.5 355,562.5 435,562.5 490,559.25 531,556.25 580,554.5 627,555 660,557 691,556.25 730,553.75 771,549.2 835,549.2" fill="none" stroke="#0000cd" stroke-width="1" stroke-linejoin="round"/>
<polyline points="2,523.75 37,524 50,527 100,528 150,533 200,535 235,538.75 259,539 300,541.25 340,543 420,543 440,542.5 490,540.5 531,537.5 580,534.5 595,532 611,532 660,533.75 675,534 700,532.5 730,532 771,530.4 800,529.6 835,529.6" fill="none" stroke="#ffff00" stroke-width="2" stroke-linejoin="round"/>
<polyline points="2,557 19,558 35,554.5 51,551.25 67,549.5 83,540.5 99,534.5 115,531.5 131,539.5 147,553 163,553.75 179,552 195,548.25 211,551.25 227,551.25 243,541.25 259,533.75 291,530 307,526.25 323,528.75 339,533 355,533.75 387,533.75 403,537.5 419,537.5 435,535 451,528.75 467,523.75 483,523.75 547,519.5 563,512.5 580,507.5 595,505.5 627,547.5 659,551.25 675,547.5 691,541.25 707,535.5 723,537 740,536 771,524 787,520.6 803,520.6 819,526.2 835,526.8" fill="none" stroke="#008000" stroke-width="2" stroke-linejoin="round"/>
<polyline points="2,557.5 19,558.25 35,557 51,555 67,553 83,550 99,547.5 115,543.75 131,542 147,542 163,542.5 179,543 195,545 211,547.5 227,550 243,547.5 259,545 291,540 307,535 339,532 355,531.25 371,531.25 387,533 403,535 419,535 435,534.5 451,532.5 467,531.25 483,530.5 531,525 547,522 580,517.5 595,514.5 611,517.5 627,521.25 643,526.25 659,531.25 675,536.25 691,540.5 707,543.75 723,543 740,541.6 771,533.2 800,528.2 835,526.2" fill="none" stroke="#ff0000" stroke-width="2" stroke-linejoin="round"/>
</g>
<rect x="2.5" y="2.5" width="934" height="257" fill="none" stroke="#000" stroke-width="1"/>
<rect x="2.5" y="261.5" width="934" height="73" fill="none" stroke="#000" stroke-width="1"/>
<rect x="2.5" y="336.5" width="934" height="58" fill="none" stroke="#000" stroke-width="1"/>
<rect x="2.5" y="396.5" width="934" height="85" fill="none" stroke="#000" stroke-width="1"/>
<rect x="2.5" y="483.5" width="934" height="93" fill="none" stroke="#000" stroke-width="1"/>
<rect x="937" y="44" width="3" height="1" fill="#000"/>
<rect x="937" y="93" width="3" height="1" fill="#000"/>
<rect x="937" y="142" width="3" height="1" fill="#000"/>
<rect x="937" y="191" width="3" height="1" fill="#000"/>
<rect x="937" y="240" width="3" height="1" fill="#000"/>
<rect x="937" y="263" width="2" height="1" fill="#000"/>
<rect x="937" y="302" width="2" height="1" fill="#000"/>
<rect x="937" y="333" width="2" height="1" fill="#000"/>
<rect x="937" y="338" width="2" height="1" fill="#000"/>
<rect x="937" y="393" width="2" height="1" fill="#000"/>
<rect x="937" y="398" width="2" height="1" fill="#000"/>
<rect x="937" y="480" width="2" height="1" fill="#000"/>
<rect x="937" y="485" width="2" height="1" fill="#000"/>
<rect x="937" y="575" width="2" height="1" fill="#000"/>
<rect x="936" y="349" width="1" height="1" fill="#b4b4b4"/>
<rect x="936" y="382" width="1" height="1" fill="#b4b4b4"/>
<rect x="936" y="422" width="1" height="1" fill="#b4b4b4"/>
<rect x="936" y="456" width="1" height="1" fill="#b4b4b4"/>
<rect x="936" y="525" width="1" height="1" fill="#6f7f90"/>
<rect x="936" y="554" width="1" height="1" fill="#6f7f90"/>
<rect x="938" y="17" width="56" height="14" fill="#000"/>
<text x="6" y="17" font-size="12" fill="#000" textLength="66" lengthAdjust="spacingAndGlyphs">FGOLD,Daily</text>
<text x="80" y="17" font-size="12" fill="#000" textLength="46" lengthAdjust="spacingAndGlyphs">4632.30</text>
<text x="129" y="17" font-size="12" fill="#000" textLength="47" lengthAdjust="spacingAndGlyphs">4697.68</text>
<text x="180" y="17" font-size="12" fill="#000" textLength="45" lengthAdjust="spacingAndGlyphs">4622.20</text>
<text x="230" y="17" font-size="12" fill="#000" textLength="46" lengthAdjust="spacingAndGlyphs">4670.68</text>
<text x="6" y="277" font-size="12" fill="#000" textLength="87" lengthAdjust="spacingAndGlyphs">MACD(12,26,9)</text>
<text x="96" y="277" font-size="12" fill="#000" textLength="39" lengthAdjust="spacingAndGlyphs">19.659</text>
<text x="138" y="277" font-size="12" fill="#000" textLength="40" lengthAdjust="spacingAndGlyphs">80.839</text>
<text x="180" y="277" font-size="12" fill="#000" textLength="43" lengthAdjust="spacingAndGlyphs">90.669</text>
<text x="6" y="352" font-size="12" fill="#000" textLength="80" lengthAdjust="spacingAndGlyphs">Stoch(15,5,4)</text>
<text x="88" y="352" font-size="12" fill="#000" textLength="46" lengthAdjust="spacingAndGlyphs">90.9264</text>
<text x="138" y="352" font-size="12" fill="#000" textLength="46" lengthAdjust="spacingAndGlyphs">88.0773</text>
<text x="6" y="412" font-size="12" fill="#000" textLength="37" lengthAdjust="spacingAndGlyphs">RSI(9)</text>
<text x="45" y="412" font-size="12" fill="#000" textLength="47" lengthAdjust="spacingAndGlyphs">71.0382</text>
<text x="9" y="499" font-size="12" fill="#000" textLength="39" lengthAdjust="spacingAndGlyphs">Traders</text>
<text x="51" y="499" font-size="12" fill="#000" textLength="46" lengthAdjust="spacingAndGlyphs">Dynamic</text>
<text x="101" y="499" font-size="12" fill="#000" textLength="31" lengthAdjust="spacingAndGlyphs">Index</text>
<text x="135" y="499" font-size="12" fill="#000" textLength="47" lengthAdjust="spacingAndGlyphs">77.3458</text>
<text x="185" y="499" font-size="12" fill="#000" textLength="47" lengthAdjust="spacingAndGlyphs">65.4387</text>
<text x="235" y="499" font-size="12" fill="#000" textLength="47" lengthAdjust="spacingAndGlyphs">53.5315</text>
<text x="285" y="499" font-size="12" fill="#000" textLength="47" lengthAdjust="spacingAndGlyphs">66.5360</text>
<text x="335" y="499" font-size="12" fill="#000" textLength="47" lengthAdjust="spacingAndGlyphs">67.9153</text>
<text x="943" y="49" font-size="12" fill="#000" textLength="46" lengthAdjust="spacingAndGlyphs">4606.45</text>
<text x="943" y="98" font-size="12" fill="#000" textLength="46" lengthAdjust="spacingAndGlyphs">4448.95</text>
<text x="943" y="147" font-size="12" fill="#000" textLength="46" lengthAdjust="spacingAndGlyphs">4291.45</text>
<text x="943" y="196" font-size="12" fill="#000" textLength="46" lengthAdjust="spacingAndGlyphs">4133.95</text>
<text x="942" y="245" font-size="12" fill="#000" textLength="47" lengthAdjust="spacingAndGlyphs">3976.45</text>
<text x="943" y="29" font-size="12" fill="#fff" textLength="46" lengthAdjust="spacingAndGlyphs">4670.68</text>
<text x="940" y="275" font-size="12" fill="#000" textLength="45" lengthAdjust="spacingAndGlyphs">106.484</text>
<text x="941" y="307" font-size="12" fill="#000" textLength="23" lengthAdjust="spacingAndGlyphs">0.00</text>
<text x="940" y="331" font-size="12" fill="#000" textLength="42" lengthAdjust="spacingAndGlyphs">-82.971</text>
<text x="939" y="350" font-size="12" fill="#000" textLength="22" lengthAdjust="spacingAndGlyphs">100</text>
<text x="938" y="354" font-size="12" fill="#000" textLength="15" lengthAdjust="spacingAndGlyphs">80</text>
<text x="938" y="387" font-size="12" fill="#000" textLength="15" lengthAdjust="spacingAndGlyphs">20</text>
<text x="940" y="391" font-size="12" fill="#000" textLength="6" lengthAdjust="spacingAndGlyphs">0</text>
<text x="940" y="410" font-size="12" fill="#000" textLength="21" lengthAdjust="spacingAndGlyphs">100</text>
<text x="939" y="427" font-size="12" fill="#000" textLength="14" lengthAdjust="spacingAndGlyphs">70</text>
<text x="939" y="461" font-size="12" fill="#000" textLength="14" lengthAdjust="spacingAndGlyphs">30</text>
<text x="941" y="478" font-size="12" fill="#000" textLength="6" lengthAdjust="spacingAndGlyphs">0</text>
<text x="939" y="497" font-size="12" fill="#000" textLength="48" lengthAdjust="spacingAndGlyphs">93.1196</text>
<text x="938" y="530" font-size="12" fill="#000" textLength="16" lengthAdjust="spacingAndGlyphs">68</text>
<text x="938" y="559" font-size="12" fill="#000" textLength="15" lengthAdjust="spacingAndGlyphs">50</text>
<text x="939" y="573" font-size="12" fill="#000" textLength="47" lengthAdjust="spacingAndGlyphs">36.9535</text>
<text x="2" y="592" font-size="12" fill="#000" textLength="64" lengthAdjust="spacingAndGlyphs">4 Nov 2025</text>
<text x="97" y="592" font-size="12" fill="#000" textLength="72" lengthAdjust="spacingAndGlyphs">12 Nov 2025</text>
<text x="193" y="592" font-size="12" fill="#000" textLength="71" lengthAdjust="spacingAndGlyphs">20 Nov 2025</text>
<text x="289" y="592" font-size="12" fill="#000" textLength="71" lengthAdjust="spacingAndGlyphs">28 Nov 2025</text>
<text x="385" y="592" font-size="12" fill="#000" textLength="65" lengthAdjust="spacingAndGlyphs">8 Dec 2025</text>
<text x="481" y="592" font-size="12" fill="#000" textLength="72" lengthAdjust="spacingAndGlyphs">16 Dec 2025</text>
<text x="577" y="592" font-size="12" fill="#000" textLength="71" lengthAdjust="spacingAndGlyphs">24 Dec 2025</text>
<text x="673" y="592" font-size="12" fill="#000" textLength="62" lengthAdjust="spacingAndGlyphs">5 Jan 2026</text>
<text x="769" y="592" font-size="12" fill="#000" textLength="69" lengthAdjust="spacingAndGlyphs">13 Jan 2026</text>
<rect x="3" y="577" width="1" height="3" fill="#000"/>
<rect x="99" y="577" width="1" height="3" fill="#000"/>
<rect x="195" y="577" width="1" height="3" fill="#000"/>
<rect x="291" y="577" width="1" height="3" fill="#000"/>
<rect x="387" y="577" width="1" height="3" fill="#000"/>
<rect x="483" y="577" width="1" height="3" fill="#000"/>
<rect x="579" y="577" width="1" height="3" fill="#000"/>
<rect x="675" y="577" width="1" height="3" fill="#000"/>
<rect x="771" y="577" width="1" height="3" fill="#000"/>
</svg>
</body></html>
